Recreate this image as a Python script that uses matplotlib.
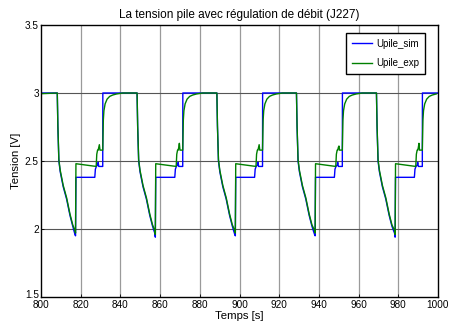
import numpy as np
import matplotlib
matplotlib.use('Agg')
import matplotlib.pyplot as plt
from matplotlib.transforms import ScaledTranslation

plt.rcParams['font.family'] = ['Liberation Sans', 'DejaVu Sans']

# cycle timing (s): start of the load step, minimum voltage, return to rest
t_drop = [808.2, 848.4, 888.6, 928.7, 969.0]
t_low = [817.4, 857.6, 897.9, 938.1, 978.4]
t_rise = [831.1, 871.4, 911.6, 951.8, 992.1]

# minimum voltage of each cycle and peak of the experimental bump
v_low_sim = [1.95, 1.94, 1.95, 1.95, 1.94]
v_low_exp = [1.97, 1.96, 1.97, 1.97, 1.96]
v_spike_exp = [2.62, 2.63, 2.62, 2.61, 2.63]

# discharge shape, offsets after t_drop (s) and voltage (V)
fall_dt = [0.0, 0.3, 0.8, 1.5, 3.0, 4.7, 6.4, 7.8]
fall_sim = [3.0, 2.75, 2.50, 2.42, 2.31, 2.22, 2.10, 2.02]
fall_exp = [3.0, 2.76, 2.51, 2.43, 2.32, 2.23, 2.11, 2.03]

# plateau after the jump, offsets relative to t_rise (s)
plat_sim_dt = [-4.0, -3.7, -3.2, -2.6, -2.3, -2.0, 0.0]
plat_sim = [2.38, 2.44, 2.46, 2.47, 2.49, 2.46, 2.46]
plat_exp_dt = [-3.3, -3.0, -2.6, -2.3, -2.0, -1.7, -1.4, 0.0]
plat_exp = [2.46, 2.55, 2.58, 2.58, 2.60, None, 2.58, 2.58]

# recovery of the measured voltage after t_rise
rec_dt = [0.3, 0.6, 1.2, 2.2, 3.5, 5.0, 7.0, 10.0]
rec_exp = [2.80, 2.87, 2.92, 2.955, 2.975, 2.985, 2.993, 3.0]

v_rest = 3.0
v_jump_sim = 2.38
v_jump_exp = 2.48


def build(sim=True):
    t = [800.0]
    v = [v_rest if sim else 2.995]
    for k in range(len(t_drop)):
        t0, tl, tr = t_drop[k], t_low[k], t_rise[k]
        fall = fall_sim if sim else fall_exp
        t += [t0 + d for d in fall_dt]
        v += fall
        t += [tl - 0.3, tl, tl + 0.2]
        if sim:
            v += [1.97 if v_low_sim[k] < 1.95 else 1.96, v_low_sim[k], v_jump_sim]
            t += [tr + d for d in plat_sim_dt]
            v += plat_sim
            t += [tr + 0.05]
            v += [v_rest]
        else:
            v += [1.99, v_low_exp[k], v_jump_exp]
            vals = [v_spike_exp[k] if x is None else x for x in plat_exp]
            t += [tr + d for d in plat_exp_dt]
            v += vals
            t += [tr + d for d in rec_dt]
            v += rec_exp
    if sim:
        t += [1000.0]
        v += [v_rest]
    else:
        t = [x for x in t if x <= 1000.0]
        v = v[:len(t)]
    return np.array(t), np.array(v)


ts, vs = build(True)
te, ve = build(False)

fig = plt.figure(figsize=(4.49, 3.23), dpi=100)
ax = fig.add_axes([41 / 449, 1 - 297 / 323, 397 / 449, 272 / 323])

for x in range(820, 1000, 20):
    ax.axvline(x, color='#9a9a9a', lw=0.9, zorder=0)
for y in [2.0, 2.5, 3.0]:
    ax.axhline(y, color='#555555', lw=0.8, zorder=0)

ax.plot(ts, vs, color='#0000ff', lw=1.0, label='Upile_sim')
ax.plot(te, ve, color='#008000', lw=1.0, label='Upile_exp')

ax.set_xlim(800, 1000)
ax.set_ylim(1.5, 3.5)
ax.set_xticks(np.arange(800, 1001, 20))
ax.set_yticks([1.5, 2, 2.5, 3, 3.5])
ax.set_yticklabels(['1.5', '2', '2.5', '3', '3.5'])
ax.tick_params(direction='in', length=2.5, width=0.6, labelsize=7.2)
ax.tick_params(axis='x', pad=2.5)
ax.tick_params(axis='y', pad=1.5)
for s in ax.spines.values():
    s.set_linewidth(1.0)

# lift the bottom y label a little so it clears the 800 label
lbl = ax.get_yticklabels()[0]
lbl.set_transform(lbl.get_transform() + ScaledTranslation(0, 2.5 / 72, fig.dpi_scale_trans))

ax.set_title('La tension pile avec régulation de débit (J227)', fontsize=8.5, pad=5)
ax.set_xlabel('Temps [s]', fontsize=8.2, labelpad=0.5)
ax.set_ylabel('Tension [V]', fontsize=8.2, labelpad=3)

leg = ax.legend(loc='upper right', bbox_to_anchor=(0.967, 0.971), fontsize=7,
                fancybox=False, framealpha=1, edgecolor='black', borderaxespad=0,
                handlelength=2.1, handletextpad=0.4, borderpad=0.6, labelspacing=0.95)
leg.get_frame().set_linewidth(1.0)

fig.savefig('out.png', dpi=100)
